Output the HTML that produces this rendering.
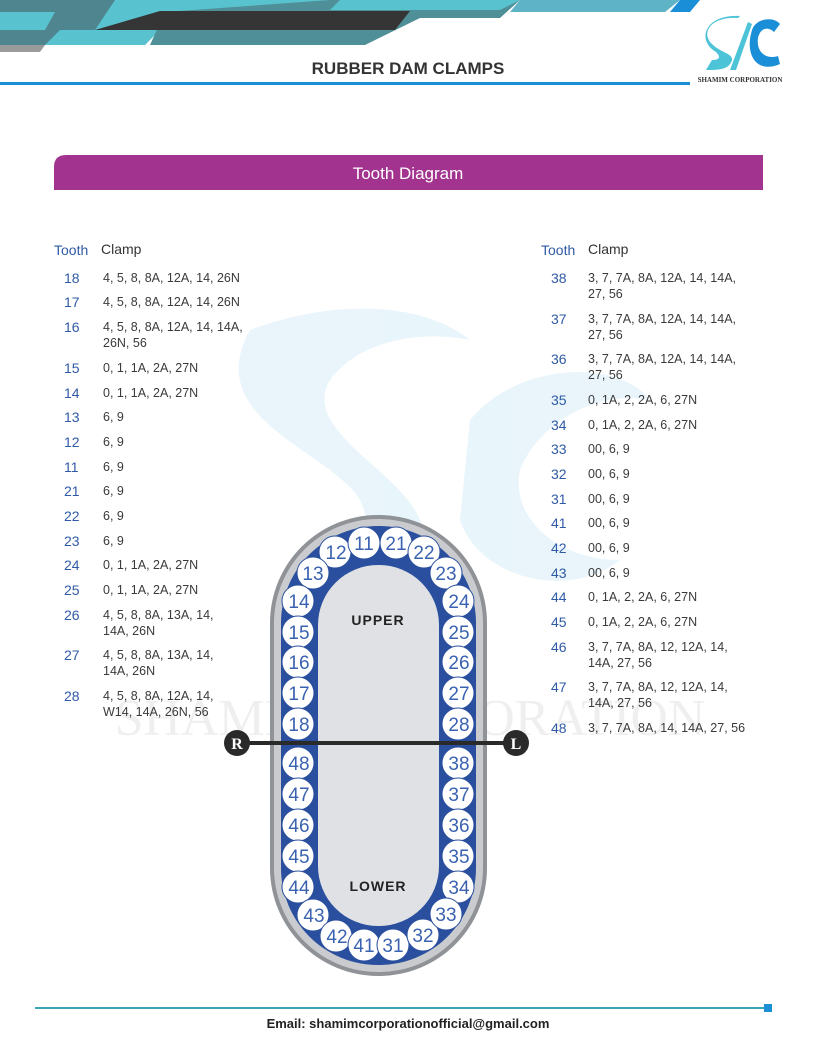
<!DOCTYPE html>
<html><head><meta charset="utf-8"><style>
body{margin:0;background:#fff}
svg{display:block;font-family:"Liberation Sans",sans-serif}
.n{fill:#2f5aa5;font-size:14px}
.c{fill:#3a3a3a;font-size:12.5px}
.t{fill:#3a62b0;font-size:19px;text-anchor:middle}
</style></head><body>
<svg width="816" height="1056" viewBox="0 0 816 1056">
<!-- watermark -->
<g opacity="0.11" fill="#3aa7d8">
<path d="M250 330 C330 300 420 300 470 340 C420 330 360 340 330 380 C300 430 400 470 420 520 C440 580 380 600 330 600 L300 560 C350 560 380 540 360 500 C330 450 200 420 250 330Z"/>
<path d="M470 420 C520 360 620 360 650 400 C600 390 540 420 520 470 C510 520 560 560 620 560 C570 600 480 580 460 520Z"/>
</g>
<text x="410" y="735" font-family="Liberation Serif" font-size="52" fill="#000" opacity="0.06" text-anchor="middle">SHAMIM CORPORATION</text>
<!-- header -->
<polygon points="0,0 120,0 95,45 0,45" fill="#4f858f"/>
<polygon points="0,12 55,12 45,30 0,30" fill="#58c3cf"/>
<polygon points="0,45 45,45 40,52 0,52" fill="#9a9a9a"/>
<polygon points="115,0 190,0 145,45 45,45 60,30 95,30" fill="#58c3cf"/>
<polygon points="190,0 340,0 325,12 165,12" fill="#58c3cf"/>
<polygon points="165,12 330,0 520,0 500,18 420,18 365,45 150,45" fill="#4f8f98"/>
<polygon points="160,11 410,11 395,30 95,30" fill="#353535"/>
<polygon points="340,0 520,0 500,10 330,10" fill="#58c3cf"/>
<polygon points="520,0 680,0 665,12 510,12" fill="#5fb3c6"/>
<polygon points="680,0 700,0 690,12 670,12" fill="#1a8ed6"/>
<text x="408" y="74" font-size="17" font-weight="bold" fill="#333" text-anchor="middle">RUBBER DAM CLAMPS</text>
<rect x="0" y="82" width="690" height="3" fill="#1a8ed6"/>
<!-- logo -->
<path d="M738 18 C712 16 700 32 712 44 C722 54 738 54 730 64 C726 70 716 70 706 70 L712 60 C718 60 722 58 716 52 C696 40 705 14 740 16Z" fill="#4cc3d6"/>
<path d="M752 30 C756 18 774 16 780 24 L774 32 C768 26 760 28 758 38 C756 52 766 60 778 56 L780 64 C758 74 744 56 752 30Z" fill="#1a8ed6"/>
<path d="M730 70 L748 22 L752 24 L736 70Z" fill="#4cc3d6"/>
<text x="740" y="82" font-family="Liberation Serif" font-size="7" font-weight="bold" fill="#333" text-anchor="middle">SHAMIM CORPORATION</text>
<!-- banner -->
<path d="M66 155 L763 155 L763 190 L54 190 L54 167 Q54 155 66 155Z" fill="#a2338f"/>
<text x="408" y="179" font-size="17" fill="#fff" text-anchor="middle">Tooth Diagram</text>
<!-- left table -->
<text x="54" y="255" font-size="14" fill="#2f5aa5">Tooth</text><text x="101" y="254" font-size="14" fill="#333">Clamp</text>
<g class="n">
<text x="64" y="283">18</text><text x="64" y="307">17</text><text x="64" y="332">16</text><text x="64" y="373">15</text><text x="64" y="398">14</text><text x="64" y="422">13</text><text x="64" y="447">12</text><text x="64" y="472">11</text><text x="64" y="496">21</text><text x="64" y="521">22</text><text x="64" y="546">23</text><text x="64" y="570">24</text><text x="64" y="595">25</text><text x="64" y="620">26</text><text x="64" y="660">27</text><text x="64" y="701">28</text>
</g>
<g class="c">
<text x="103" y="282">4, 5, 8, 8A, 12A, 14, 26N</text><text x="103" y="306">4, 5, 8, 8A, 12A, 14, 26N</text>
<text x="103" y="331">4, 5, 8, 8A, 12A, 14, 14A,</text><text x="103" y="347">26N, 56</text>
<text x="103" y="372">0, 1, 1A, 2A, 27N</text><text x="103" y="397">0, 1, 1A, 2A, 27N</text>
<text x="103" y="421">6, 9</text><text x="103" y="446">6, 9</text><text x="103" y="471">6, 9</text><text x="103" y="495">6, 9</text><text x="103" y="520">6, 9</text><text x="103" y="545">6, 9</text>
<text x="103" y="569">0, 1, 1A, 2A, 27N</text><text x="103" y="594">0, 1, 1A, 2A, 27N</text>
<text x="103" y="619">4, 5, 8, 8A, 13A, 14,</text><text x="103" y="635">14A, 26N</text>
<text x="103" y="659">4, 5, 8, 8A, 13A, 14,</text><text x="103" y="675">14A, 26N</text>
<text x="103" y="700">4, 5, 8, 8A, 12A, 14,</text><text x="103" y="716">W14, 14A, 26N, 56</text>
</g>
<!-- right table -->
<text x="541" y="255" font-size="14" fill="#2f5aa5">Tooth</text><text x="588" y="254" font-size="14" fill="#333">Clamp</text>
<g class="n">
<text x="551" y="283">38</text><text x="551" y="324">37</text><text x="551" y="364">36</text><text x="551" y="405">35</text><text x="551" y="430">34</text><text x="551" y="454">33</text><text x="551" y="479">32</text><text x="551" y="504">31</text><text x="551" y="528">41</text><text x="551" y="553">42</text><text x="551" y="578">43</text><text x="551" y="602">44</text><text x="551" y="627">45</text><text x="551" y="652">46</text><text x="551" y="692">47</text><text x="551" y="733">48</text>
</g>
<g class="c">
<text x="588" y="282">3, 7, 7A, 8A, 12A, 14, 14A,</text><text x="588" y="298">27, 56</text>
<text x="588" y="323">3, 7, 7A, 8A, 12A, 14, 14A,</text><text x="588" y="339">27, 56</text>
<text x="588" y="363">3, 7, 7A, 8A, 12A, 14, 14A,</text><text x="588" y="379">27, 56</text>
<text x="588" y="404">0, 1A, 2, 2A, 6, 27N</text><text x="588" y="429">0, 1A, 2, 2A, 6, 27N</text>
<text x="588" y="453">00, 6, 9</text><text x="588" y="478">00, 6, 9</text><text x="588" y="503">00, 6, 9</text><text x="588" y="527">00, 6, 9</text><text x="588" y="552">00, 6, 9</text><text x="588" y="577">00, 6, 9</text>
<text x="588" y="601">0, 1A, 2, 2A, 6, 27N</text><text x="588" y="626">0, 1A, 2, 2A, 6, 27N</text>
<text x="588" y="651">3, 7, 7A, 8A, 12, 12A, 14,</text><text x="588" y="667">14A, 27, 56</text>
<text x="588" y="691">3, 7, 7A, 8A, 12, 12A, 14,</text><text x="588" y="707">14A, 27, 56</text>
<text x="588" y="732">3, 7, 7A, 8A, 14, 14A, 27, 56</text>
</g>
<!-- diagram -->
<rect x="270" y="515" width="217" height="461" rx="108" fill="#8f9296"/>
<rect x="274" y="519" width="209" height="453" rx="104" fill="#c9cbce"/>
<rect x="281" y="526" width="195" height="439" rx="97" fill="#2a4f9e"/>
<rect x="318" y="565" width="121" height="361" rx="60" fill="#dfe1e5"/>
<g fill="#fff" stroke="#2a4f9e" stroke-width="1">
<circle cx="335" cy="552" r="16"/><circle cx="364" cy="543" r="16"/><circle cx="396" cy="543" r="16"/><circle cx="424" cy="552" r="16"/>
<circle cx="313" cy="573" r="16"/><circle cx="446" cy="573" r="16"/>
<circle cx="298" cy="601" r="16"/><circle cx="298" cy="632" r="16"/><circle cx="298" cy="662" r="16"/><circle cx="298" cy="693" r="16"/><circle cx="298" cy="724" r="16"/>
<circle cx="458" cy="601" r="16"/><circle cx="458" cy="632" r="16"/><circle cx="458" cy="662" r="16"/><circle cx="458" cy="693" r="16"/><circle cx="458" cy="724" r="16"/>
<circle cx="298" cy="763" r="16"/><circle cx="298" cy="794" r="16"/><circle cx="298" cy="825" r="16"/><circle cx="298" cy="856" r="16"/><circle cx="298" cy="887" r="16"/>
<circle cx="458" cy="763" r="16"/><circle cx="458" cy="794" r="16"/><circle cx="458" cy="825" r="16"/><circle cx="458" cy="856" r="16"/><circle cx="458" cy="887" r="16"/>
<circle cx="313" cy="915" r="16"/><circle cx="336" cy="936" r="16"/><circle cx="364" cy="945" r="16"/><circle cx="393" cy="945" r="16"/><circle cx="423" cy="935" r="16"/><circle cx="446" cy="914" r="16"/>
</g>
<g class="t">
<text x="336" y="559">12</text><text x="364" y="550">11</text><text x="396" y="550">21</text><text x="424" y="559">22</text>
<text x="313" y="580">13</text><text x="446" y="580">23</text>
<text x="299" y="608">14</text><text x="299" y="639">15</text><text x="299" y="669">16</text><text x="299" y="700">17</text><text x="299" y="731">18</text>
<text x="459" y="608">24</text><text x="459" y="639">25</text><text x="459" y="669">26</text><text x="459" y="700">27</text><text x="459" y="731">28</text>
<text x="299" y="770">48</text><text x="299" y="801">47</text><text x="299" y="832">46</text><text x="299" y="863">45</text><text x="299" y="894">44</text>
<text x="459" y="770">38</text><text x="459" y="801">37</text><text x="459" y="832">36</text><text x="459" y="863">35</text><text x="459" y="894">34</text>
<text x="314" y="922">43</text><text x="337" y="943">42</text><text x="364" y="952">41</text><text x="393" y="952">31</text><text x="423" y="942">32</text><text x="446" y="921">33</text>
</g>
<text x="378" y="625" font-size="14" font-weight="bold" fill="#222" text-anchor="middle" letter-spacing="1">UPPER</text>
<text x="378" y="891" font-size="14" font-weight="bold" fill="#222" text-anchor="middle" letter-spacing="1">LOWER</text>
<rect x="237" y="741" width="280" height="4" fill="#2a2a2a"/>
<circle cx="237" cy="743" r="13" fill="#2a2a2a"/><circle cx="516" cy="743" r="13" fill="#2a2a2a"/>
<text x="237" y="749" font-family="Liberation Serif" font-weight="bold" font-size="16" fill="#fff" text-anchor="middle">R</text>
<text x="516" y="749" font-family="Liberation Serif" font-weight="bold" font-size="16" fill="#fff" text-anchor="middle">L</text>
<!-- footer -->
<rect x="35" y="1007" width="730" height="2" fill="#3aa3b8"/>
<rect x="764" y="1004" width="8" height="8" fill="#1a8ed6"/>
<text x="408" y="1028" font-size="13" font-weight="bold" fill="#222" text-anchor="middle">Email: shamimcorporationofficial@gmail.com</text>
</svg>
</body></html>
